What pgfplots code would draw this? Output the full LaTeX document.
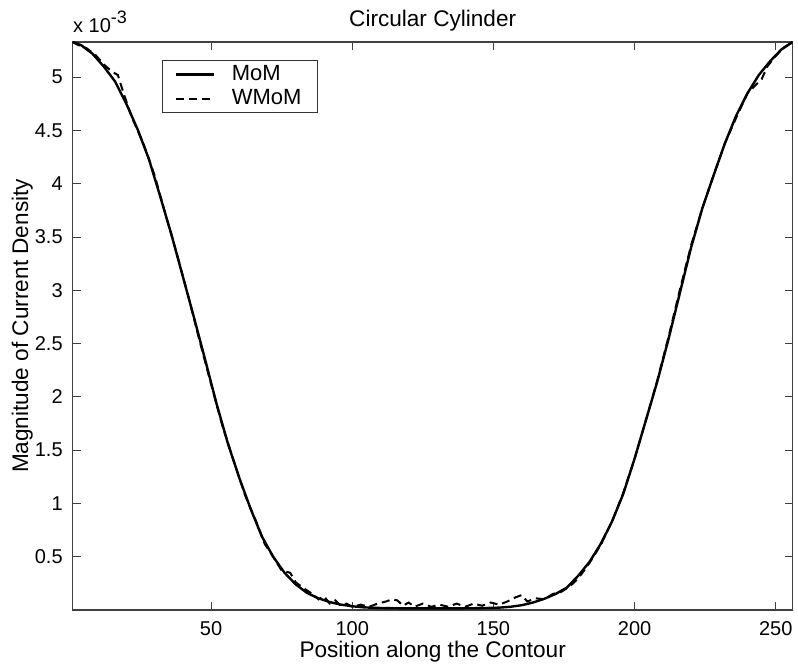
\documentclass[border=0pt]{standalone}
\usepackage{fontspec}
\setmainfont{Liberation Sans}
\usepackage{pgfplots}
\pgfplotsset{compat=1.18}
\begin{document}
\begin{tikzpicture}
\begin{axis}[
  name=ax,
  width=360pt, height=284pt, scale only axis,
  xmin=1, xmax=256, ymin=0, ymax=5.33,
  xtick={50,100,150,200,250},
  ytick={0.5,1,1.5,2,2.5,3,3.5,4,4.5,5},
  tick align=inside, major tick length=4pt,
  axis line style={black!75, line width=0.6pt},
  every tick/.style={black!75, line width=0.5pt},
  tick label style={font=\normalsize},
  /pgf/number format/assume math mode=true,
  yticklabel style={/pgf/number format/fixed, /pgf/number format/precision=1, xshift=-1.5pt},
  xticklabel style={yshift=-2pt},
  legend style={at={(rel axis cs:0.124,0.968)}, anchor=north west, draw=black!80, fill=white,
    font=\fontsize{11}{13}\selectfont, inner xsep=6pt, inner ysep=0.5pt, row sep=-1pt, column sep=6.5pt},
  legend cell align=left,
  legend image code/.code={\draw[#1] (0pt,0pt) -- (19pt,0pt);},
  clip=true,
]
\addplot[black, line width=1.2pt] coordinates {
(1,5.33) (4,5.30) (8,5.22) (12,5.10) (16,4.96) (20,4.75) (24,4.51) (28,4.23)
(32,3.88) (36,3.52) (40,3.13) (44,2.74) (48,2.34) (52,1.93) (56,1.56) (60,1.24)
(64,0.95) (68,0.69) (72,0.50) (76,0.35) (80,0.24) (84,0.16) (88,0.11) (92,0.075)
(96,0.05) (100,0.035) (104,0.025) (108,0.02) (112,0.018) (116,0.016) (120,0.015)
(124,0.015) (128,0.015) (132,0.015) (136,0.015) (140,0.016) (144,0.017) (148,0.019)
(152,0.022) (156,0.03) (160,0.045) (164,0.07) (168,0.105) (172,0.15) (176,0.21)
(180,0.32) (184,0.45) (188,0.62) (192,0.83) (196,1.09) (200,1.42) (204,1.78)
(208,2.14) (212,2.54) (216,2.97) (220,3.40) (224,3.77) (228,4.08) (232,4.38)
(236,4.64) (240,4.85) (244,5.02) (248,5.15) (252,5.26) (256,5.33)
};
\addlegendentry{MoM}
\addplot[black, line width=1pt, dash pattern=on 4pt off 2.5pt] coordinates {
(1,5.33) (3,5.30) (6,5.27) (9,5.21) (12,5.12) (15,5.05) (17,5.02) (19,4.85)
(22,4.62) (26,4.38) (30,4.08) (34,3.70) (38,3.33) (42,2.94) (46,2.52) (50,2.12)
(54,1.73) (58,1.40) (62,1.08) (66,0.83) (69,0.62) (72,0.50) (75,0.37) (78,0.35)
(80,0.26) (83,0.20) (86,0.15) (88,0.10) (90,0.13) (92,0.06) (94,0.09) (96,0.04)
(98,0.06) (100,0.03) (103,0.05) (106,0.03) (109,0.06) (112,0.08) (114,0.10)
(116,0.09) (118,0.04) (120,0.07) (122,0.03) (125,0.06) (128,0.03) (131,0.05)
(134,0.03) (137,0.06) (140,0.03) (143,0.06) (146,0.04) (149,0.07) (152,0.05)
(155,0.08) (158,0.12) (160,0.14) (162,0.08) (165,0.11) (168,0.10) (171,0.15)
(174,0.17) (177,0.22) (179,0.27) (181,0.33) (184,0.44) (188,0.61) (192,0.83)
(196,1.10) (200,1.42) (204,1.78) (208,2.15) (212,2.56) (216,3.00) (220,3.42)
(224,3.77) (228,4.08) (232,4.38) (236,4.62) (240,4.85) (243,4.93) (245,4.98)
(247,5.10) (250,5.20) (253,5.28) (256,5.33)
};
\addlegendentry{WMoM}
\end{axis}
% title, axis labels and exponent
\node[anchor=base, inner sep=0pt, font=\fontsize{11.3}{13}\selectfont] at (180pt,291.5pt) {Circular Cylinder};
\node[anchor=base, inner sep=0pt, font=\fontsize{11.3}{13}\selectfont] at (180pt,-24pt) {Position along the Contour};
\node[anchor=base, inner sep=0pt, rotate=90, font=\fontsize{11.3}{13}\selectfont] at (-22.3pt,142pt) {Magnitude of Current Density};
\node[anchor=base west, inner sep=0pt] at (0pt,288.5pt) {x 10\raisebox{4.5pt}{\fontsize{9}{9}\selectfont -3}};
\pgfresetboundingbox
\path (-36.35pt,-29pt) rectangle (362.65pt,305pt);
\end{tikzpicture}
\end{document}
